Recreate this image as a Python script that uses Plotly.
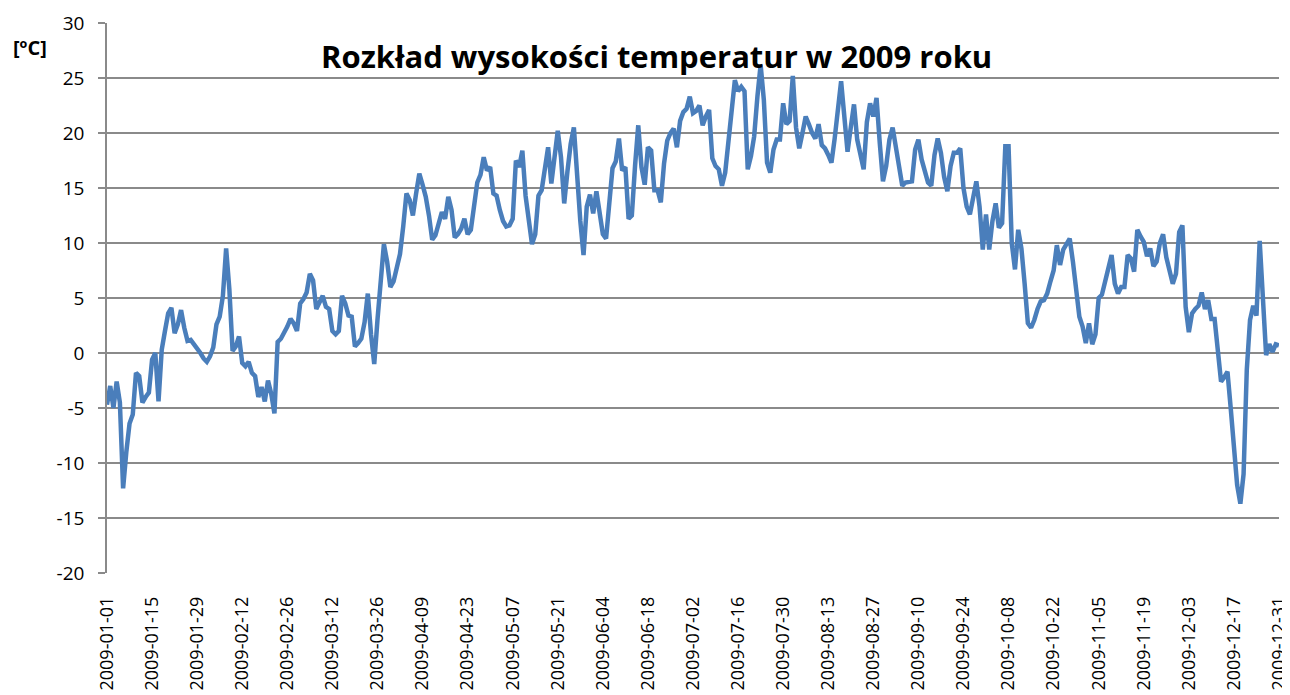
import pandas as pd
import plotly.graph_objects as go

# Daily mean temperatures 2009, per month
jan = [-4.7, -3.0, -5.0, -2.6, -4.5, -12.3, -9.0, -6.4, -5.6, -1.8, -2.1, -4.5, -4.0, -3.6, -0.6, 0.0,
       -4.4, 0.3, 2.0, 3.6, 4.1, 1.8, 2.6, 3.9, 2.3, 1.1, 1.2, 0.8, 0.5, 0.0, -0.5]
feb = [-0.8, -0.3, 0.5, 2.6, 3.3, 5.2, 9.5, 5.8, 0.2, 0.6, 1.5, -0.9, -1.2, -0.8, -1.8, -2.1,
       -4.0, -3.1, -4.4, -2.5, -3.7, -5.5, 1.0, 1.3, 1.8, 2.4, 3.1, 2.7]
mar = [2.0, 4.5, 4.9, 5.5, 7.2, 6.6, 4.0, 4.6, 5.2, 4.2, 4.0, 2.0, 1.7, 2.0, 5.2, 4.5, 3.4, 3.3,
       0.6, 0.9, 1.3, 2.8, 5.4, 1.7, -1.0, 3.0, 6.5, 9.9, 8.3, 6.0, 6.5]
apr = [7.8, 9.0, 11.5, 14.5, 13.9, 12.5, 14.5, 16.3, 15.3, 14.2, 12.5, 10.3, 10.7, 11.8, 12.8,
       12.2, 14.2, 13.0, 10.5, 10.8, 11.3, 12.2, 10.8, 11.2, 13.5, 15.5, 16.2, 17.8, 16.6, 16.9]
may = [14.5, 14.3, 13.0, 12.0, 11.5, 11.6, 12.2, 17.5, 16.9, 18.4, 14.3, 12.0, 9.9, 10.8, 14.3,
       14.8, 16.5, 18.7, 15.4, 17.5, 20.2, 17.8, 13.6, 16.5, 19.0, 20.5, 15.5, 12.0, 8.9, 13.3, 14.4]
jun = [12.7, 14.7, 12.5, 10.8, 10.4, 13.5, 16.8, 17.4, 19.5, 16.6, 16.9, 12.2, 12.5, 17.0, 20.7,
       16.9, 15.3, 18.7, 18.4, 14.8, 14.8, 13.7, 17.2, 19.3, 20.0, 20.4, 18.7, 21.1, 21.9, 22.2]
jul = [23.3, 21.8, 22.0, 22.5, 20.7, 21.5, 22.1, 17.7, 17.0, 16.7, 15.2, 16.4, 19.0, 22.5, 24.8,
       23.8, 24.2, 23.8, 16.7, 17.9, 19.7, 23.3, 26.2, 23.0, 17.3, 16.4, 18.5, 19.4, 19.4, 22.7, 20.8]
aug = [21.1, 25.2, 20.5, 18.6, 20.0, 21.5, 20.8, 20.0, 19.5, 20.8, 18.9, 18.6, 18.0, 17.3, 19.5,
       22.5, 24.7, 21.5, 18.3, 20.5, 22.6, 19.4, 18.0, 16.7, 21.0, 22.7, 21.5, 23.2, 19.1, 15.6, 17.0]
sep = [19.4, 20.5, 18.8, 16.5, 15.2, 15.5, 15.5, 15.6, 18.5, 19.4, 17.6, 16.5, 15.5, 15.2, 18.0,
       19.5, 18.2, 16.0, 14.7, 17.0, 18.2, 18.2, 18.6, 15.0, 13.3, 12.6, 14.0, 15.6, 13.3, 9.4]
oct_ = [12.6, 9.4, 12.0, 13.6, 11.4, 11.8, 18.8, 18.8, 10.0, 7.6, 11.2, 9.5, 6.3, 2.7, 2.3, 3.0,
        4.0, 4.7, 4.8, 5.4, 6.5, 7.5, 9.8, 8.0, 9.4, 10.0, 10.4, 8.3, 5.5, 3.3, 2.4]
nov = [0.9, 2.7, 0.8, 1.7, 5.0, 5.3, 6.5, 7.6, 8.9, 6.3, 5.4, 6.0, 6.0, 8.9, 8.6, 7.4, 11.2,
       10.6, 10.1, 8.8, 9.5, 7.9, 8.3, 10.0, 10.8, 8.7, 7.5, 6.3, 7.2, 11.0]
dec = [11.6, 4.2, 1.9, 3.6, 4.0, 4.3, 5.5, 4.0, 4.8, 3.1, 3.1, 0.2, -2.6, -2.2, -1.7, -5.0,
       -8.5, -12.0, -13.7, -11.0, -1.5, 3.0, 4.3, 3.4, 10.2, 4.5, -0.2, 0.8, 0.1, 0.8, 0.7]

temps = jan + feb + mar + apr + may + jun + jul + aug + sep + oct_ + nov + dec
dates = [d.strftime("%Y-%m-%d") for d in pd.date_range("2009-01-01", "2009-12-31", freq="D")]
tick_dates = dates[::14]
y_ticks = [-20, -15, -10, -5, 0, 5, 10, 15, 20, 25, 30]
y_ticktext = [str(v) for v in y_ticks]

title_text = "Rozkład wysokości temperatur w 2009 roku"
unit_text = "[ºC]"

FONT = "Open Sans"
GRID = "#8a8a8a"

fig = go.Figure()
fig.add_trace(go.Scatter(
    x=dates, y=temps, mode="lines",
    line=dict(color="#4a7ebb", width=4.5),
    hoverinfo="x+y", showlegend=False,
))

fig.update_layout(
    width=1290, height=687,
    margin=dict(l=99, r=19, t=15, b=122),
    paper_bgcolor="white", plot_bgcolor="white",
    font=dict(family=FONT, color="#000000"),
    xaxis=dict(
        type="category", range=[0, len(dates) - 1],
        tickmode="array", tickvals=tick_dates, ticktext=tick_dates,
        tickangle=-90, tickfont=dict(size=18, family=FONT),
        showgrid=False, showline=False, zeroline=False, ticks="",
        ticklabelstandoff=19, automargin=False,
    ),
    yaxis=dict(
        range=[-20, 30], tickmode="array", tickvals=y_ticks, ticktext=y_ticktext,
        tickfont=dict(size=19, family=FONT),
        showgrid=True, gridcolor=GRID, gridwidth=1.5,
        showline=True, linecolor=GRID, linewidth=1.5,
        zeroline=False, ticks="outside", ticklen=7, tickcolor=GRID, tickwidth=1.5,
        ticklabelstandoff=10, automargin=False,
    ),
    annotations=[
        dict(text=title_text, xref="paper", yref="paper", x=0.469, y=0.940,
             xanchor="center", yanchor="middle", showarrow=False,
             font=dict(size=31, family=FONT, color="#000000", weight="bold")),
        dict(text=unit_text, xref="paper", yref="paper", x=-0.0655, y=0.956,
             xanchor="center", yanchor="middle", showarrow=False,
             font=dict(size=20, family=FONT, color="#000000", weight="bold")),
    ],
)

fig.write_html("out.html")
